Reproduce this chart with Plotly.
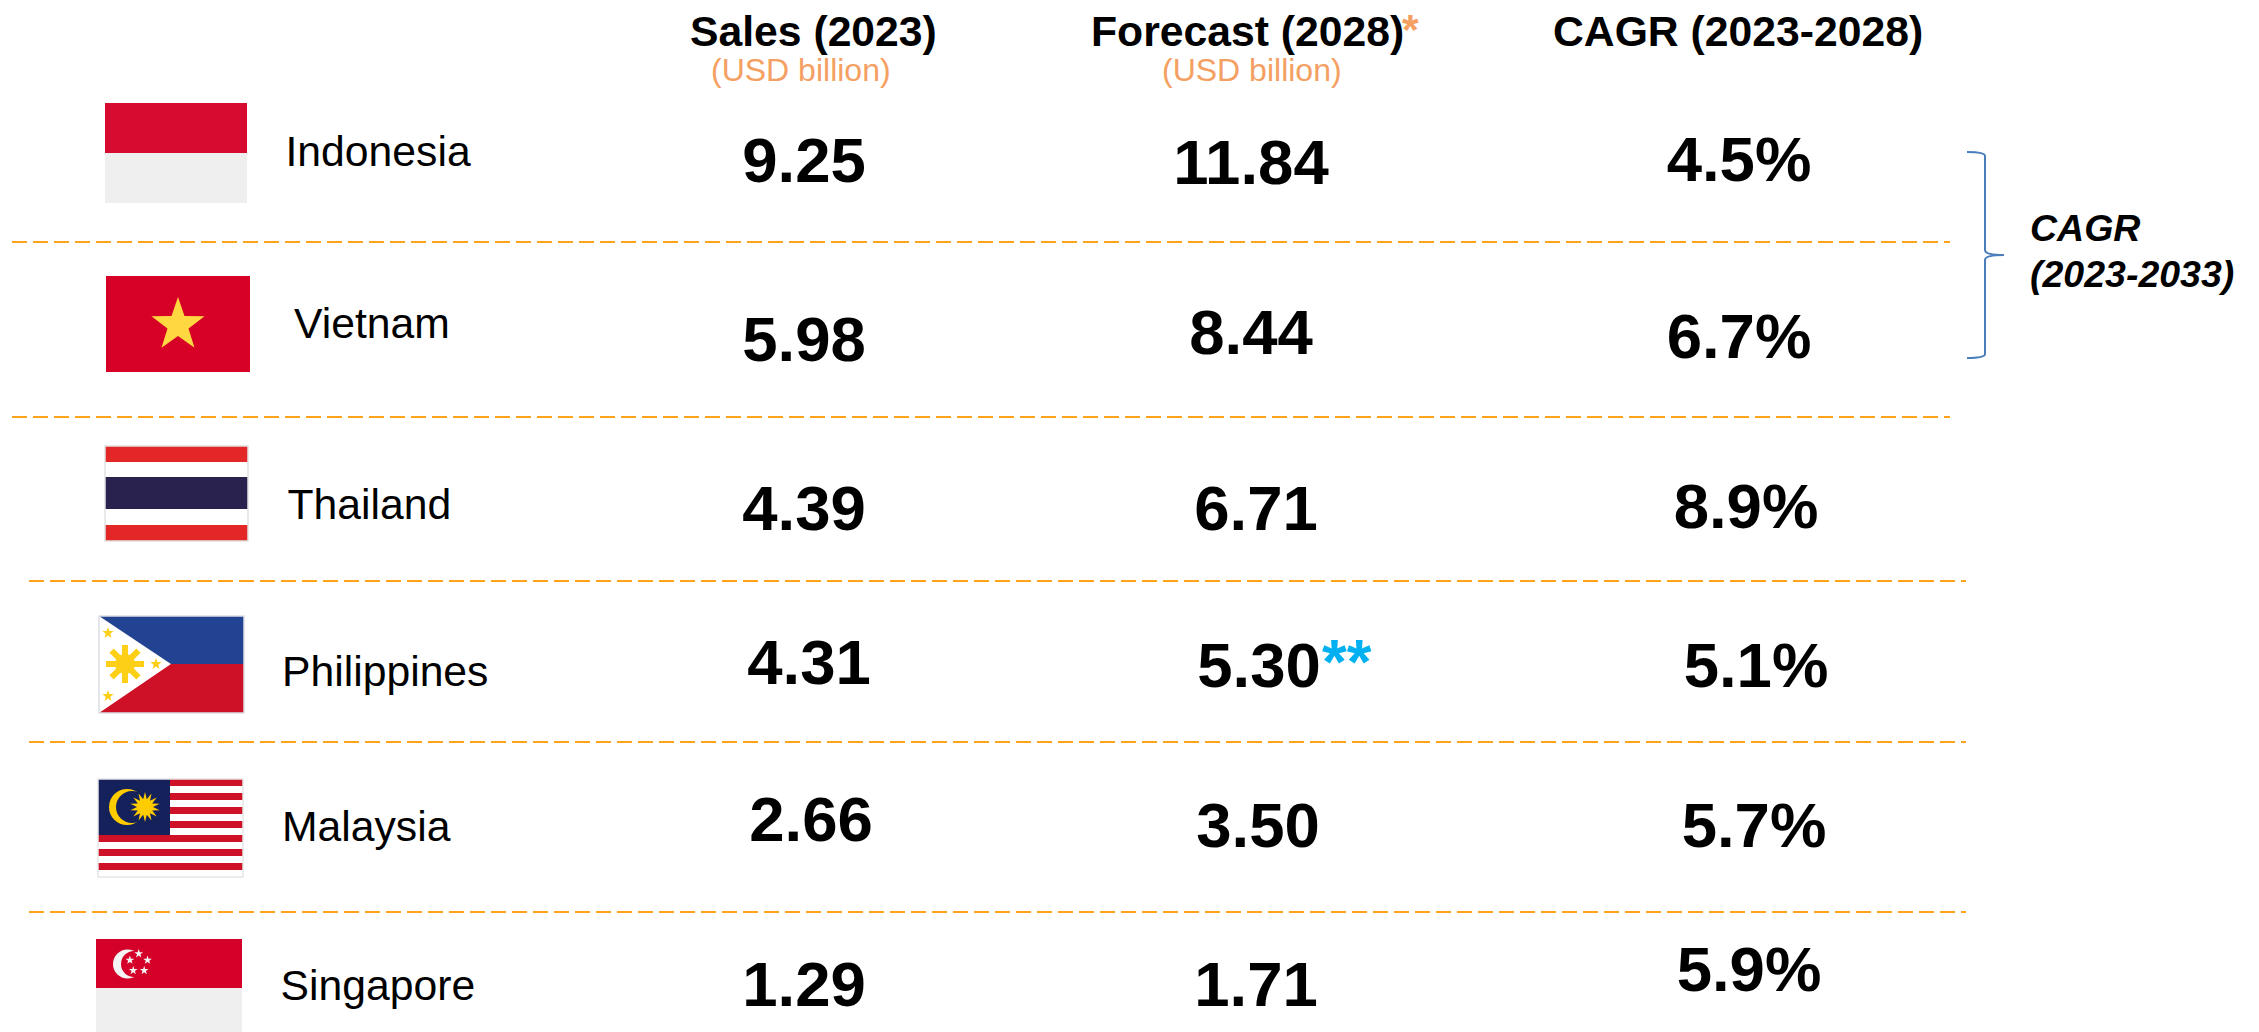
import math
import plotly.graph_objects as go

# ---- data ----
countries = ["Indonesia", "Vietnam", "Thailand", "Philippines", "Malaysia", "Singapore"]
sales_2023 = [9.25, 5.98, 4.39, 4.31, 2.66, 1.29]
forecast_2028 = [11.84, 8.44, 6.71, 5.30, 3.50, 1.71]
cagr_2023_2028 = [4.5, 6.7, 8.9, 5.1, 5.7, 5.9]
headers = ["Sales (2023)", "Forecast (2028)", "CAGR (2023-2028)"]
unit_label = "(USD billion)"
side_label = ["CAGR", "(2023-2033)"]

# ---- placement (pixel space of the page) ----
W, H = 2259, 1032
FONT = "Liberation Sans"
name_x = [285.5, 294, 287.5, 282, 282, 280.5]
name_y = [155, 327, 508, 675, 830, 989]
sales_x = [804, 804, 804, 809, 811, 804]
sales_y = [166, 345, 514, 668, 825, 990]
fc_x = [1251, 1251, 1256, 1259, 1258, 1256]
fc_y = [168, 338, 514, 671, 831, 990]
cagr_x = [1739, 1739, 1746, 1756, 1754, 1749]
cagr_y = [165, 342, 512, 671, 831, 975]
rule_y = [242, 417, 581, 742, 912]
rule_x0 = [12, 12, 29, 29, 29]
rule_x1 = [1950, 1950, 1966, 1966, 1966]

ORANGE = "#F4A062"
RULE = "#FFA31A"

fig = go.Figure()


def text_trace(xs, ys, labels, size, color="#000000", weight=700, pos="middle center"):
    fig.add_trace(go.Scatter(
        x=xs, y=ys, text=labels, mode="text", textposition=pos, hoverinfo="skip",
        showlegend=False,
        textfont=dict(family=FONT, size=size, color=color, weight=weight),
    ))


text_trace(name_x, name_y, countries, 42.7, weight=400, pos="middle right")
text_trace(sales_x, sales_y, [f"{v:.2f}" for v in sales_2023], 63.5)
text_trace(fc_x, fc_y, [f"{v:.2f}" for v in forecast_2028], 63.5)
text_trace(cagr_x, cagr_y, [f"{v:.1f}%" for v in cagr_2023_2028], 63.5)

shapes = []


def rect(x0, y0, x1, y1, c, line=None):
    shapes.append(dict(type="rect", x0=x0, y0=y0, x1=x1, y1=y1, fillcolor=c,
                       line=dict(width=1 if line else 0, color=line or c)))


def frame(x0, y0, x1, y1, c):
    shapes.append(dict(type="rect", x0=x0, y0=y0, x1=x1, y1=y1,
                       fillcolor="rgba(0,0,0,0)", line=dict(width=1.5, color=c)))


def circle(cx, cy, r, c):
    shapes.append(dict(type="circle", x0=cx - r, y0=cy - r, x1=cx + r, y1=cy + r,
                       fillcolor=c, line=dict(width=0)))


def poly(points, c):
    d = "M" + " L".join(f"{x:.1f},{y:.1f}" for x, y in points) + " Z"
    shapes.append(dict(type="path", path=d, fillcolor=c, line=dict(width=0)))


def star(cx, cy, ro, ri, n, c, rot=-90):
    pts = []
    for i in range(2 * n):
        r = ro if i % 2 == 0 else ri
        a = math.radians(rot + i * 180 / n)
        pts.append((cx + r * math.cos(a), cy + r * math.sin(a)))
    poly(pts, c)


# rules
for y, a, b in zip(rule_y, rule_x0, rule_x1):
    shapes.append(dict(type="line", x0=a, x1=b, y0=y, y1=y,
                       line=dict(color=RULE, width=2, dash="15px,6px")))

# Indonesia
rect(105, 103, 247, 153, "#D60B2F")
rect(105, 153, 247, 203, "#EFEFEF")

# Vietnam
rect(106, 276, 250, 372, "#D70027")
star(178, 325, 28, 11, 5, "#FFD741")

# Thailand
rect(105, 446, 248, 541, "#FFFFFF")
rect(105, 446, 248, 462, "#E32727")
rect(105, 477, 248, 509, "#29214E")
rect(105, 525, 248, 541, "#E32727")
frame(105, 446, 248, 541, "#E2E2E2")

# Philippines
rect(99, 616, 244, 664, "#224292")
rect(99, 664, 244, 713, "#CE1126")
poly([(99, 616), (171, 664), (99, 713)], "#FFFFFF")
for k in range(8):
    a = math.radians(45 * k)
    ca, sa = math.cos(a), math.sin(a)
    poly([(125 + 8 * ca - 3 * sa, 664 + 8 * sa + 3 * ca),
          (125 + 19 * ca - 3 * sa, 664 + 19 * sa + 3 * ca),
          (125 + 19 * ca + 3 * sa, 664 + 19 * sa - 3 * ca),
          (125 + 8 * ca + 3 * sa, 664 + 8 * sa - 3 * ca)], "#FDD017")
circle(125, 664, 10, "#FDD017")
star(108, 633, 6, 2.4, 5, "#FDD017")
star(156, 664, 6, 2.4, 5, "#FDD017")
star(108, 696, 6, 2.4, 5, "#FDD017")
frame(99, 616, 244, 713, "#DDDDE6")

# Malaysia
rect(98, 779, 243, 877, "#FFFFFF")
for k in range(7):
    rect(98, 779 + 14 * k, 243, 786 + 14 * k, "#CE1126")
rect(98, 779, 170, 835, "#15215B")
circle(127, 807, 18, "#FFCC00")
circle(132, 807, 16, "#15215B")
star(145, 807, 15, 8, 14, "#FFCC00")
frame(98, 779, 243, 877, "#E6E6E6")

# Singapore
rect(96, 939, 242, 988, "#D50029")
rect(96, 988, 242, 1032, "#EFEFEF")
circle(127.5, 964, 14.5, "#F4F4F4")
circle(134, 964, 13, "#D50029")
for k in range(5):
    a = math.radians(-90 + 72 * k)
    star(138.7 + 9.3 * math.cos(a), 963 + 9.3 * math.sin(a), 4.6, 1.8, 5, "#F4F4F4")

# brace
shapes.append(dict(
    type="path",
    path="M1967,152 Q1985,152 1985,156 L1985,250 Q1985,255 2004,255 Q1985,255 1985,260 "
         "L1985,354 Q1985,358 1967,358",
    line=dict(color="#4A7EBB", width=2),
))

anns = []


def note(x, y, text, size, color="#000000", anchor="center", bold=False, italic=False):
    if bold:
        text = f"<b>{text}</b>"
    if italic:
        text = f"<i>{text}</i>"
    anns.append(dict(x=x, y=y, xref="x", yref="y", text=text, showarrow=False,
                     xanchor=anchor, yanchor="middle", align="left",
                     font=dict(family=FONT, size=size, color=color)))


note(813, 31, headers[0], 42.7, bold=True)
note(1089, 31, headers[1], 42.7, anchor="left", bold=True)
note(1400, 29, "*", 42.7, color=ORANGE, anchor="left", bold=True)
note(1738, 31, headers[2], 42.7, bold=True)
note(801, 70, unit_label, 32, color=ORANGE)
note(1252, 70, unit_label, 32, color=ORANGE)
note(1320, 661, "**", 63.5, color="#00B0F0", anchor="left", bold=True)
note(2028, 228, side_label[0], 37.5, anchor="left", bold=True, italic=True)
note(2028, 274, side_label[1], 37.5, anchor="left", bold=True, italic=True)

fig.update_layout(
    width=W, height=H, autosize=False,
    margin=dict(l=0, r=0, t=0, b=0, pad=0),
    paper_bgcolor="#FFFFFF", plot_bgcolor="#FFFFFF",
    showlegend=False, shapes=shapes, annotations=anns,
    xaxis=dict(range=[0, W], visible=False, fixedrange=True),
    yaxis=dict(range=[H, 0], visible=False, fixedrange=True),
)

fig.write_html("out.html", config={"displayModeBar": False},
               post_script="document.body.style.margin='0';document.body.style.overflow='hidden';")
